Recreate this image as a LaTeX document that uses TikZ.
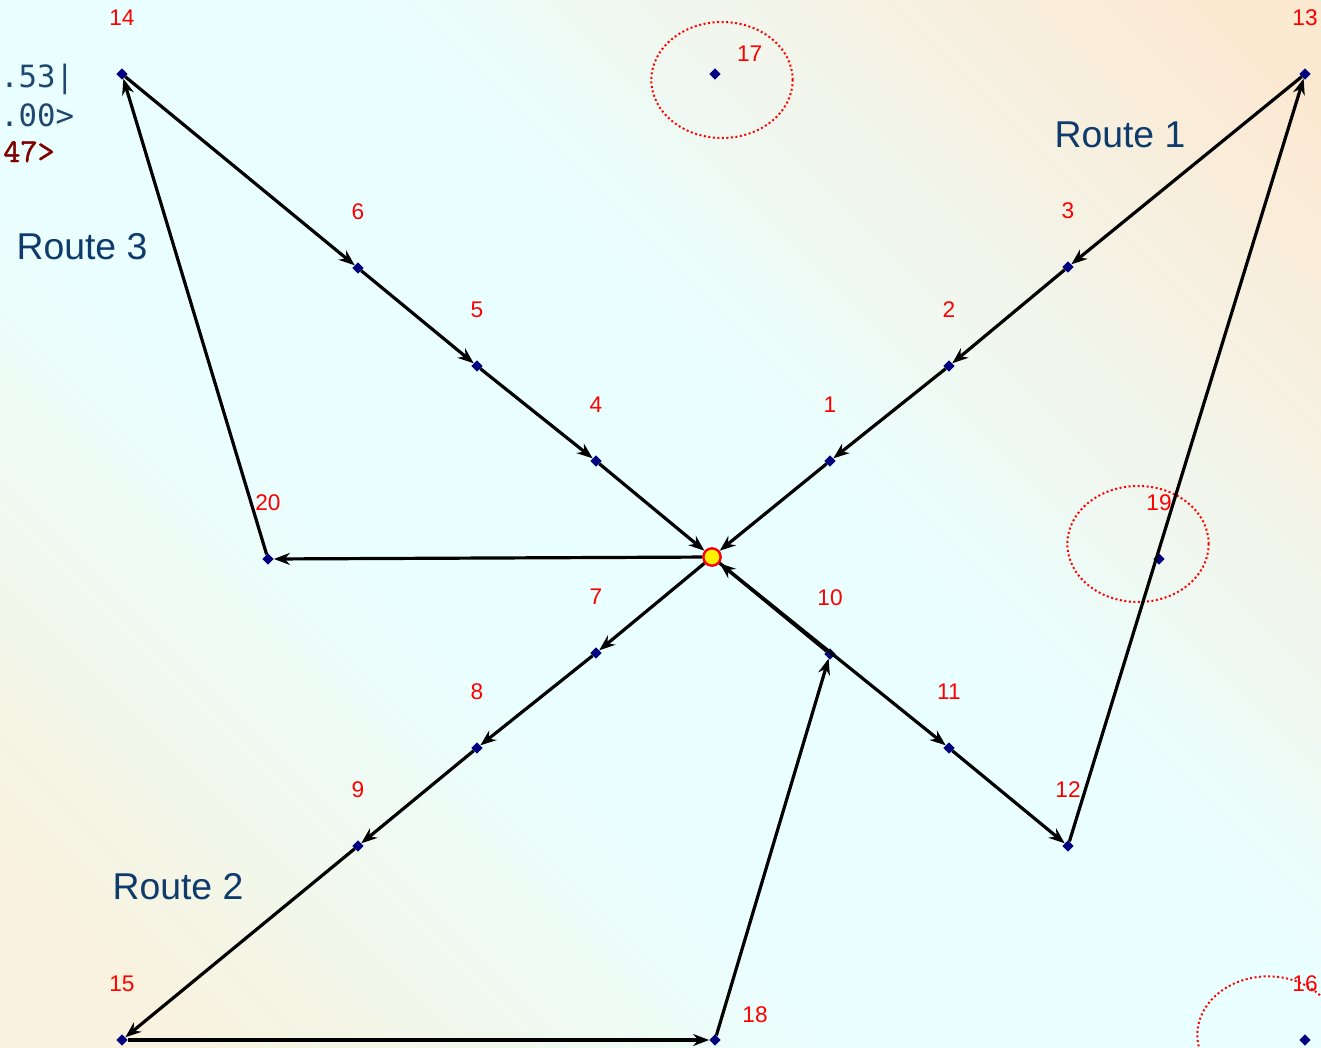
\documentclass[tikz,border=0pt]{standalone}
\usepackage{fontspec}
\setmainfont{Liberation Sans}
\newfontfamily\codefont{DejaVu Sans Mono}
\newfontfamily\codebold{Latin Modern Mono}[FakeBold=1.4]
\usetikzlibrary{shapes.geometric, arrows.meta}

\definecolor{bgtopright}{RGB}{252,233,210}
\definecolor{bgmid}{RGB}{234,255,255}
\definecolor{bgbotleft}{RGB}{248,242,222}
\definecolor{routeblue}{RGB}{14,59,107}
\definecolor{custnavy}{RGB}{0,0,128}
\definecolor{codeblue}{RGB}{30,72,112}
\definecolor{codered}{RGB}{128,0,0}

\pgfdeclareverticalshading{bgdiag}{100bp}{color(0bp)=(bgbotleft); color(20bp)=(bgbotleft);
  color(40bp)=(bgmid); color(56bp)=(bgmid); color(82bp)=(bgtopright); color(100bp)=(bgtopright)}

\tikzset{
  cust/.style={diamond, fill=custnavy, inner sep=0pt, minimum size=8.5pt},
  custlbl/.style={text=red, inner sep=0pt, font=\fontsize{17}{20}\selectfont},
  routelbl/.style={text=routeblue, font=\fontsize{28}{32}\selectfont},
  leg/.style={-{Stealth[length=12pt,width=9pt]}, line width=2.4pt, black},
  zone/.style={red, line width=1.5pt, dash pattern=on 1.5pt off 1.9pt},
  codeline/.style={anchor=base west, inner sep=0pt},
}

\begin{document}
\begin{tikzpicture}[x=0.75pt, y=-0.75pt]
  % background
  \shade[shading=bgdiag, shading angle=-45] (0,0) rectangle (1321,1047);
  \useasboundingbox (0,0) rectangle (1321,1047);
  % clipped code text at the left edge
  \node[codeline, text=codeblue, font=\codefont\fontsize{23}{26}\selectfont] (code1) at (0,87) {.53|};
  \node[codeline, text=codeblue, font=\codefont\fontsize{23}{26}\selectfont] (code2) at (0,126) {.00>};
  \node[codeline, text=codered, font=\codebold\fontsize{25}{28}\selectfont] (code3) at (3,162) {47>};
  % time windows
  \draw[zone] (722,80) ellipse [x radius=53pt, y radius=43.5pt];
  \draw[zone] (1138,544) ellipse [x radius=53pt, y radius=43.5pt];
  \draw[zone] (1268,1035) ellipse [x radius=53pt, y radius=44pt];
  % depot
  \node[circle, fill=yellow, draw=red, line width=1.8pt, minimum size=13pt, inner sep=0pt] (depot) at (712,557) {};
  % customers
  \foreach \n/\x/\y in {1/830/461, 2/949/366, 3/1068/267, 4/596/461, 5/477/366, 6/358/268,
      7/596/653, 8/477/748, 9/358/846, 10/830/654, 11/949/748, 12/1068/846,
      13/1305/74, 14/122/74, 15/122/1040, 16/1305/1040, 17/715/74, 18/715/1040,
      19/1159/559, 20/268/559}
    \node[cust] (c\n) at (\x,\y) {};
  % customer numbers
  \foreach \n in {1,...,16,19,20}
    \node[custlbl] (l\n) at ([yshift=42pt]c\n) {\n};
  \node[custlbl] (l17) at ([xshift=26pt,yshift=15pt]c17) {17};
  \node[custlbl] (l18) at ([xshift=30pt,yshift=19pt]c18) {18};
  % routes
  \foreach \a/\b in {depot/c11, c11/c12, c12/c13, c13/c3, c3/c2, c2/c1, c1/depot,
      depot/c7, c7/c8, c8/c9, c9/c15, c15/c18, c18/c10, c10/depot,
      depot/c20, c20/c14, c14/c6, c6/c5, c5/c4, c4/depot}
    \draw[leg] (\a) -- (\b);
  \node[routelbl] (r1) at (1120,135) {Route 1};
  \node[routelbl] (r2) at (178,887) {Route 2};
  \node[routelbl] (r3) at (82,247) {Route 3};
\end{tikzpicture}
\end{document}
